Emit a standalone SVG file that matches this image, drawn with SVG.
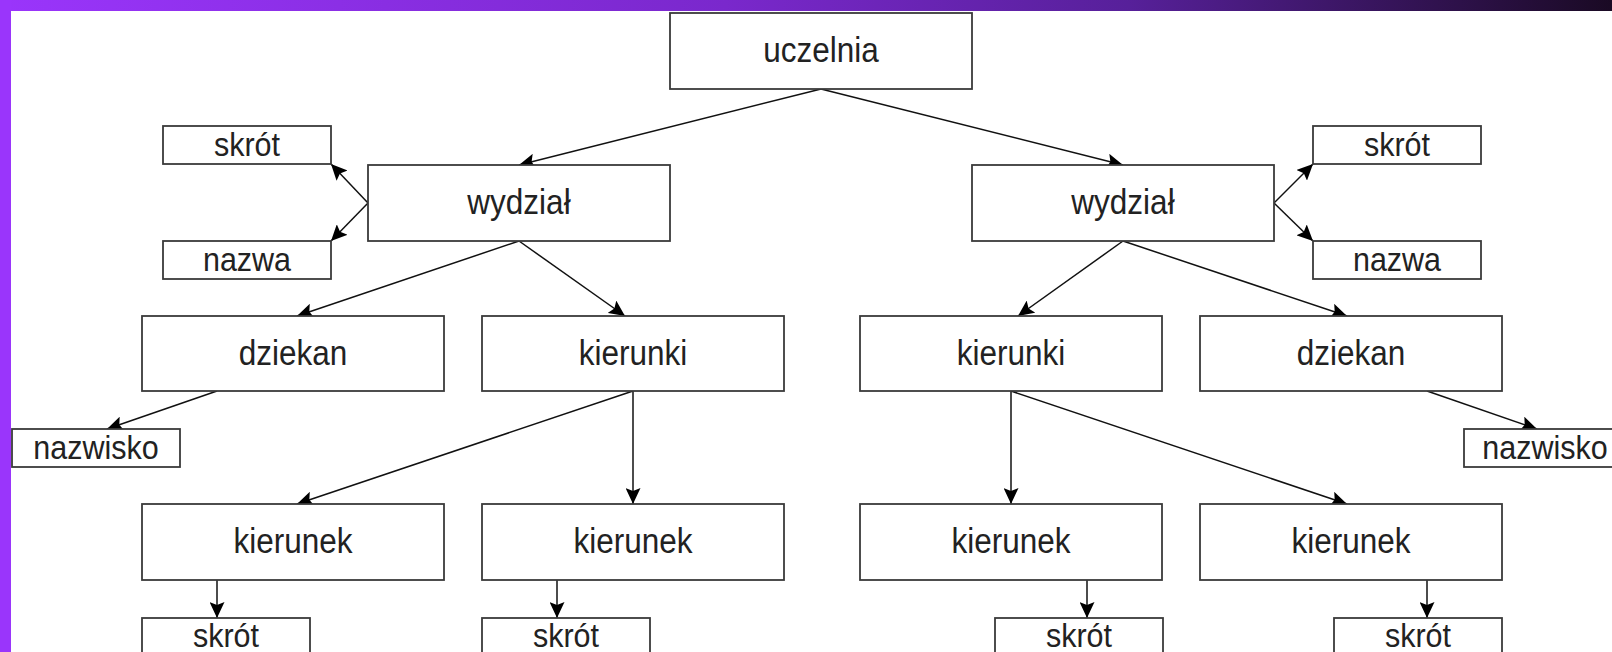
<svg xmlns="http://www.w3.org/2000/svg" width="1612" height="652" viewBox="0 0 1612 652">
  <defs>
    <linearGradient id="barGrad" x1="0" y1="0" x2="1" y2="0">
      <stop offset="0" stop-color="#9a35fb"/>
      <stop offset="0.45" stop-color="#7a28cc"/>
      <stop offset="0.7" stop-color="#57209a"/>
      <stop offset="1" stop-color="#1a0a24"/>
    </linearGradient>
    <marker id="arrow" markerUnits="userSpaceOnUse" markerWidth="17" markerHeight="15" viewBox="0 0 17 15" refX="16" refY="7.5" orient="auto">
      <path d="M0,0 L16,7.5 L0,15 L3,7.5 z" fill="#000"/>
    </marker>
    <style>
      .box { fill: #fff; stroke: #3a3a3a; stroke-width: 1.8; }
      .big { font-family: "Liberation Sans", Arial, sans-serif; font-size: 31.5px; fill: #222; text-anchor: middle; }
      .small { font-family: "Liberation Sans", Arial, sans-serif; font-size: 30.5px; fill: #222; text-anchor: middle; }
      .link { stroke: #111; stroke-width: 1.5; fill: none; marker-end: url(#arrow); }
    </style>
  </defs>

  <!-- page frame -->
  <rect x="0" y="0" width="1612" height="652" fill="#fff"/>
  <rect x="0" y="0" width="1612" height="11" fill="url(#barGrad)"/>
  <rect x="0" y="0" width="11" height="652" fill="#9a35fb"/>

  <!-- connectors -->
  <g id="connectors">
    <line class="link" x1="821" y1="89" x2="519" y2="165"/>
    <line class="link" x1="821" y1="89" x2="1123" y2="165"/>
    <line class="link" x1="368" y1="203" x2="331" y2="164"/>
    <line class="link" x1="368" y1="203" x2="331" y2="241"/>
    <line class="link" x1="1274" y1="203" x2="1313" y2="164"/>
    <line class="link" x1="1274" y1="203" x2="1313" y2="241"/>
    <line class="link" x1="519" y1="241" x2="297" y2="316"/>
    <line class="link" x1="519" y1="241" x2="625" y2="316"/>
    <line class="link" x1="1123" y1="241" x2="1018" y2="316"/>
    <line class="link" x1="1123" y1="241" x2="1347" y2="316"/>
    <line class="link" x1="217" y1="391" x2="107" y2="429"/>
    <line class="link" x1="1427" y1="391" x2="1537" y2="429"/>
    <line class="link" x1="633" y1="391" x2="297" y2="504"/>
    <line class="link" x1="633" y1="391" x2="633" y2="504"/>
    <line class="link" x1="1011" y1="391" x2="1011" y2="504"/>
    <line class="link" x1="1011" y1="391" x2="1347" y2="504"/>
    <line class="link" x1="217" y1="580" x2="217" y2="618"/>
    <line class="link" x1="557" y1="580" x2="557" y2="618"/>
    <line class="link" x1="1087" y1="580" x2="1087" y2="618"/>
    <line class="link" x1="1427" y1="580" x2="1427" y2="618"/>
  </g>

  <!-- root -->
  <g id="uczelnia">
    <rect class="box" x="670" y="13" width="302" height="76"/>
    <text class="big" transform="translate(821,62) scale(1,1.1)">uczelnia</text>
  </g>

  <!-- left faculty -->
  <g id="wydzial-l">
    <rect class="box" x="368" y="165" width="302" height="76"/>
    <text class="big" transform="translate(519,214) scale(1,1.1)">wydział</text>
  </g>
  <g id="skrot-wl">
    <rect class="box" x="163" y="126" width="168" height="38"/>
    <text class="small" transform="translate(247,156) scale(1,1.1)">skrót</text>
  </g>
  <g id="nazwa-wl">
    <rect class="box" x="163" y="241" width="168" height="38"/>
    <text class="small" transform="translate(247,271) scale(1,1.1)">nazwa</text>
  </g>
  <g id="dziekan-l">
    <rect class="box" x="142" y="316" width="302" height="75"/>
    <text class="big" transform="translate(293,365) scale(1,1.1)">dziekan</text>
  </g>
  <g id="nazwisko-l">
    <rect class="box" x="12" y="429" width="168" height="38"/>
    <text class="small" transform="translate(96,459) scale(1,1.1)">nazwisko</text>
  </g>
  <g id="kierunki-l">
    <rect class="box" x="482" y="316" width="302" height="75"/>
    <text class="big" transform="translate(633,365) scale(1,1.1)">kierunki</text>
  </g>
  <g id="kierunek-1">
    <rect class="box" x="142" y="504" width="302" height="76"/>
    <text class="big" transform="translate(293,553) scale(1,1.1)">kierunek</text>
  </g>
  <g id="kierunek-2">
    <rect class="box" x="482" y="504" width="302" height="76"/>
    <text class="big" transform="translate(633,553) scale(1,1.1)">kierunek</text>
  </g>
  <g id="skrot-k1">
    <rect class="box" x="142" y="618" width="168" height="40"/>
    <text class="small" transform="translate(226,647) scale(1,1.1)">skrót</text>
  </g>
  <g id="skrot-k2">
    <rect class="box" x="482" y="618" width="168" height="40"/>
    <text class="small" transform="translate(566,647) scale(1,1.1)">skrót</text>
  </g>

  <!-- right faculty -->
  <g id="wydzial-r">
    <rect class="box" x="972" y="165" width="302" height="76"/>
    <text class="big" transform="translate(1123,214) scale(1,1.1)">wydział</text>
  </g>
  <g id="skrot-wr">
    <rect class="box" x="1313" y="126" width="168" height="38"/>
    <text class="small" transform="translate(1397,156) scale(1,1.1)">skrót</text>
  </g>
  <g id="nazwa-wr">
    <rect class="box" x="1313" y="241" width="168" height="38"/>
    <text class="small" transform="translate(1397,271) scale(1,1.1)">nazwa</text>
  </g>
  <g id="kierunki-r">
    <rect class="box" x="860" y="316" width="302" height="75"/>
    <text class="big" transform="translate(1011,365) scale(1,1.1)">kierunki</text>
  </g>
  <g id="dziekan-r">
    <rect class="box" x="1200" y="316" width="302" height="75"/>
    <text class="big" transform="translate(1351,365) scale(1,1.1)">dziekan</text>
  </g>
  <g id="nazwisko-r">
    <rect class="box" x="1464" y="429" width="168" height="38"/>
    <text class="small" transform="translate(1545,459) scale(1,1.1)">nazwisko</text>
  </g>
  <g id="kierunek-3">
    <rect class="box" x="860" y="504" width="302" height="76"/>
    <text class="big" transform="translate(1011,553) scale(1,1.1)">kierunek</text>
  </g>
  <g id="kierunek-4">
    <rect class="box" x="1200" y="504" width="302" height="76"/>
    <text class="big" transform="translate(1351,553) scale(1,1.1)">kierunek</text>
  </g>
  <g id="skrot-k3">
    <rect class="box" x="995" y="618" width="168" height="40"/>
    <text class="small" transform="translate(1079,647) scale(1,1.1)">skrót</text>
  </g>
  <g id="skrot-k4">
    <rect class="box" x="1334" y="618" width="168" height="40"/>
    <text class="small" transform="translate(1418,647) scale(1,1.1)">skrót</text>
  </g>
</svg>
